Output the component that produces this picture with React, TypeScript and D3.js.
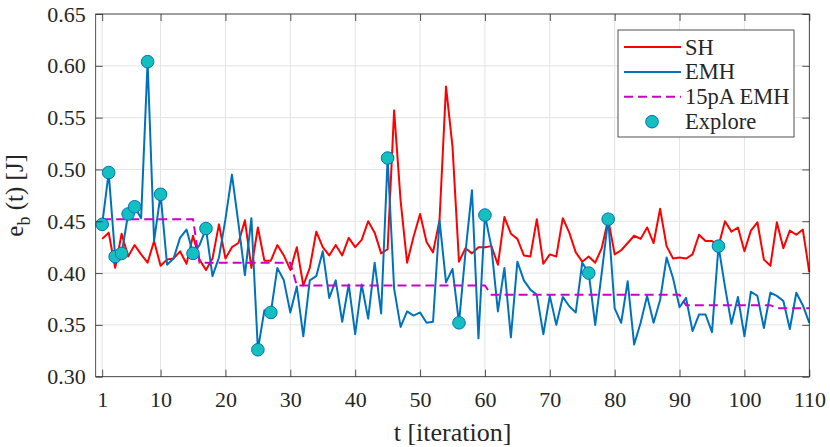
import { useEffect, useRef } from 'react';
import * as d3 from 'd3';

// energy per iteration (t = 1..110)
const shValues = [
    0.433, 0.439, 0.405, 0.438, 0.416, 0.427, 0.418, 0.410, 0.431, 0.407,
    0.413, 0.414, 0.421, 0.409, 0.436, 0.413, 0.403, 0.414, 0.447, 0.414,
    0.425, 0.429, 0.451, 0.405, 0.444, 0.412, 0.412, 0.427, 0.417, 0.403,
    0.425, 0.388, 0.405, 0.440, 0.425, 0.417, 0.427, 0.417, 0.434, 0.425,
    0.432, 0.450, 0.439, 0.419, 0.423, 0.557, 0.470, 0.410, 0.435, 0.457,
    0.430, 0.420, 0.451, 0.580, 0.522, 0.411, 0.424, 0.419, 0.425, 0.425,
    0.426, 0.408, 0.454, 0.438, 0.433, 0.417, 0.416, 0.452, 0.409, 0.418,
    0.416, 0.453, 0.439, 0.420, 0.411, 0.416, 0.410, 0.424, 0.452, 0.418,
    0.422, 0.429, 0.436, 0.433, 0.444, 0.429, 0.462, 0.426, 0.414, 0.415,
    0.414, 0.418, 0.437, 0.431, 0.431, 0.426, 0.450, 0.440, 0.444, 0.421,
    0.441, 0.449, 0.413, 0.407, 0.449, 0.424, 0.441, 0.437, 0.442, 0.401,
];

const emhValues = [
    0.447, 0.497, 0.416, 0.419, 0.457, 0.464, 0.453, 0.604, 0.431, 0.476,
    0.408, 0.414, 0.434, 0.442, 0.419, 0.427, 0.443, 0.397, 0.415, 0.452,
    0.495, 0.448, 0.398, 0.453, 0.326, 0.364, 0.362, 0.405, 0.393, 0.362,
    0.387, 0.339, 0.393, 0.397, 0.421, 0.376, 0.393, 0.353, 0.389, 0.341,
    0.389, 0.356, 0.410, 0.361, 0.511, 0.385, 0.348, 0.363, 0.359, 0.362,
    0.352, 0.353, 0.451, 0.391, 0.404, 0.352, 0.420, 0.480, 0.337, 0.456,
    0.425, 0.363, 0.405, 0.338, 0.411, 0.393, 0.384, 0.379, 0.341, 0.378,
    0.350, 0.377, 0.368, 0.362, 0.410, 0.400, 0.350, 0.400, 0.452, 0.366,
    0.352, 0.392, 0.331, 0.352, 0.378, 0.352, 0.374, 0.415, 0.395, 0.367,
    0.376, 0.344, 0.360, 0.360, 0.343, 0.426, 0.387, 0.351, 0.377, 0.339,
    0.382, 0.378, 0.347, 0.381, 0.378, 0.373, 0.346, 0.381, 0.369, 0.352,
];

const pa15Values = [
    0.452, 0.452, 0.452, 0.452, 0.452, 0.452, 0.452, 0.452, 0.452, 0.452,
    0.452, 0.452, 0.452, 0.452, 0.452, 0.410, 0.410, 0.410, 0.410, 0.410,
    0.410, 0.410, 0.410, 0.410, 0.410, 0.410, 0.410, 0.410, 0.410, 0.410,
    0.388, 0.388, 0.388, 0.388, 0.388, 0.388, 0.388, 0.388, 0.388, 0.388,
    0.388, 0.388, 0.388, 0.388, 0.388, 0.388, 0.388, 0.388, 0.388, 0.388,
    0.388, 0.388, 0.388, 0.388, 0.388, 0.388, 0.388, 0.388, 0.388, 0.388,
    0.379, 0.379, 0.379, 0.379, 0.379, 0.379, 0.379, 0.379, 0.379, 0.379,
    0.379, 0.379, 0.379, 0.379, 0.379, 0.379, 0.379, 0.379, 0.379, 0.379,
    0.379, 0.379, 0.379, 0.379, 0.379, 0.379, 0.379, 0.379, 0.379, 0.379,
    0.369, 0.369, 0.369, 0.369, 0.369, 0.369, 0.369, 0.369, 0.369, 0.369,
    0.369, 0.369, 0.369, 0.369, 0.366, 0.366, 0.366, 0.366, 0.366, 0.366,
];

// iterations where an explore step happened (marker sits on the EMH curve)
const exploreIters = [1, 2, 3, 4, 5, 6, 8, 10, 15, 17, 25, 27, 45, 56, 60, 76, 79, 96];

const xTicks = [1, 10, 20, 30, 40, 50, 60, 70, 80, 90, 100, 110];
const yTicks = [0.3, 0.35, 0.4, 0.45, 0.5, 0.55, 0.6, 0.65];

const legendItems = ['SH', 'EMH', '15pA EMH', 'Explore'];

const FONT = '"Liberation Serif", "Times New Roman", serif';
const TEXT = '#262626';
const RED = '#ff0000';
const BLUE = '#0072bd';
const MAGENTA = '#cc00cc';
const CYAN = '#14bfbf';
const LW = 2;

export default function App() {
    const svgRef = useRef<SVGSVGElement>(null);
    const width = 830;
    const height = 447;

    useEffect(() => {
        if (!svgRef.current) return;
        const svg = d3.select(svgRef.current);
        svg.selectAll('*').remove();

        const left = 95.7;
        const right = 809.3;
        const top = 14;
        const bottom = 376.7;

        const x = d3.scaleLinear().domain([0, 110]).range([left, right]);
        const y = d3.scaleLinear().domain([0.3, 0.65]).range([bottom, top]);

        svg.append('rect')
            .attr('x', left).attr('y', top)
            .attr('width', right - left).attr('height', bottom - top)
            .attr('fill', 'white');

        // grid
        const grid = svg.append('g').attr('stroke', '#e3e3e3').attr('stroke-width', 1);
        xTicks.forEach((t) => {
            grid.append('line')
                .attr('x1', x(t)).attr('x2', x(t))
                .attr('y1', top).attr('y2', bottom);
        });
        yTicks.forEach((t) => {
            grid.append('line')
                .attr('x1', left).attr('x2', right)
                .attr('y1', y(t)).attr('y2', y(t));
        });

        const iters = shValues.map((_, i) => i + 1);

        const line = d3
            .line<number>()
            .x((d, i) => x(iters[i]))
            .y((d) => y(d));

        const plot = svg.append('g');

        plot.append('path')
            .datum(shValues)
            .attr('d', line)
            .attr('fill', 'none')
            .attr('stroke', RED)
            .attr('stroke-width', LW)
            .attr('stroke-linejoin', 'round');

        plot.append('path')
            .datum(emhValues)
            .attr('d', line)
            .attr('fill', 'none')
            .attr('stroke', BLUE)
            .attr('stroke-width', LW)
            .attr('stroke-linejoin', 'round');

        plot.append('path')
            .datum(pa15Values)
            .attr('d', line)
            .attr('fill', 'none')
            .attr('stroke', MAGENTA)
            .attr('stroke-width', LW)
            .attr('stroke-dasharray', '9,5');

        exploreIters.forEach((t) => {
            plot.append('circle')
                .attr('cx', x(t))
                .attr('cy', y(emhValues[t - 1]))
                .attr('r', 6.3)
                .attr('fill', CYAN)
                .attr('stroke', BLUE)
                .attr('stroke-width', 1);
        });

        // axes (inward ticks on all four sides, like a boxed matlab plot)
        const styleAxis = (g: d3.Selection<SVGGElement, unknown, null, undefined>) => {
            g.select('.domain').remove();
            g.selectAll('line').attr('stroke', TEXT).attr('stroke-width', 0.8);
            g.selectAll('text')
                .attr('fill', TEXT)
                .style('font-family', FONT)
                .style('font-size', '22px');
        };

        svg.append('g')
            .attr('transform', `translate(0,${bottom})`)
            .call(d3.axisBottom(x).tickValues(xTicks).tickFormat(d3.format('d')).tickSizeInner(-7).tickSizeOuter(0).tickPadding(15))
            .call(styleAxis);

        svg.append('g')
            .attr('transform', `translate(0,${top})`)
            .call(d3.axisTop(x).tickValues(xTicks).tickFormat(() => '').tickSizeInner(-7).tickSizeOuter(0))
            .call(styleAxis);

        svg.append('g')
            .attr('transform', `translate(${left},0)`)
            .call(d3.axisLeft(y).tickValues(yTicks).tickFormat(d3.format('.2f')).tickSizeInner(-7).tickSizeOuter(0).tickPadding(10))
            .call(styleAxis);

        svg.append('g')
            .attr('transform', `translate(${right},0)`)
            .call(d3.axisRight(y).tickValues(yTicks).tickFormat(() => '').tickSizeInner(-7).tickSizeOuter(0))
            .call(styleAxis);

        svg.append('rect')
            .attr('x', left).attr('y', top)
            .attr('width', right - left).attr('height', bottom - top)
            .attr('fill', 'none')
            .attr('stroke', TEXT)
            .attr('stroke-width', 0.8);

        // axis titles
        svg.append('text')
            .attr('x', (left + right) / 2)
            .attr('y', 441)
            .attr('text-anchor', 'middle')
            .attr('fill', TEXT)
            .style('font-family', FONT)
            .style('font-size', '26px')
            .text('t [iteration]');

        const yLabel = svg.append('text')
            .attr('transform', `translate(23,${(top + bottom) / 2}) rotate(-90)`)
            .attr('text-anchor', 'middle')
            .attr('fill', TEXT)
            .style('font-family', FONT)
            .style('font-size', '25px');
        yLabel.append('tspan').text('e');
        yLabel.append('tspan').attr('dy', 7).style('font-size', '18px').text('b');
        yLabel.append('tspan').attr('dy', -7).text(' (t) [J]');

        // legend
        const lg = svg.append('g');
        lg.append('rect')
            .attr('x', 618).attr('y', 30)
            .attr('width', 176).attr('height', 107)
            .attr('fill', 'white')
            .attr('stroke', TEXT)
            .attr('stroke-width', 0.8);

        legendItems.forEach((name, i) => {
            const cy = 47 + i * 24.9;
            if (i < 3) {
                lg.append('line')
                    .attr('x1', 624).attr('x2', 681)
                    .attr('y1', cy).attr('y2', cy)
                    .attr('stroke', [RED, BLUE, MAGENTA][i])
                    .attr('stroke-width', LW)
                    .attr('stroke-dasharray', i === 2 ? '9,5' : null);
            } else {
                lg.append('circle')
                    .attr('cx', 652).attr('cy', cy)
                    .attr('r', 6.3)
                    .attr('fill', CYAN)
                    .attr('stroke', BLUE)
                    .attr('stroke-width', 1);
            }
            lg.append('text')
                .attr('x', 685)
                .attr('y', cy)
                .attr('dominant-baseline', 'central')
                .attr('fill', TEXT)
                .style('font-family', FONT)
                .style('font-size', '22.5px')
                .text(name);
        });
    }, []);

    return (
        <div style={{ position: 'absolute', left: 0, top: 0 }}>
            <svg ref={svgRef} width={width} height={height}></svg>
        </div>
    );
}
